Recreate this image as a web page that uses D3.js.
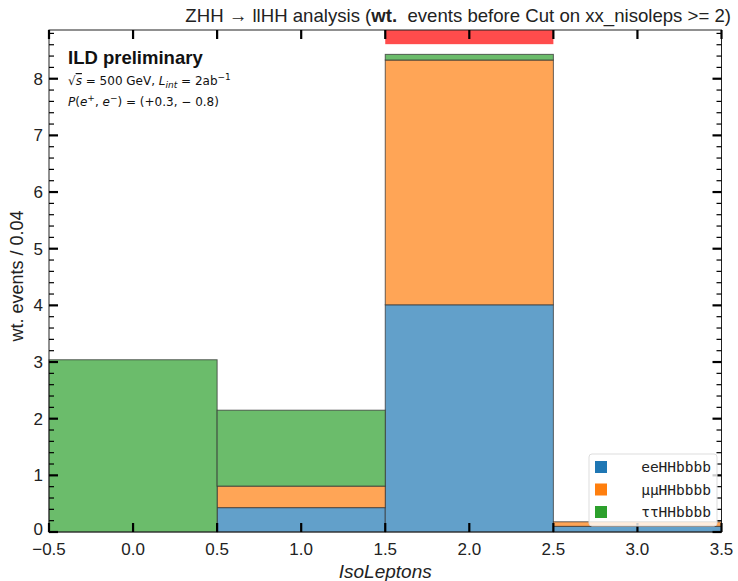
<!DOCTYPE html>
<html>
<head>
<meta charset="utf-8">
<script src="https://cdn.jsdelivr.net/npm/d3@7"></script>
<style>
  html, body { margin: 0; padding: 0; background: #fff; }
  svg { display: block; font-family: "Liberation Sans", Arial, sans-serif; }
</style>
</head>
<body>
<svg id="chart" width="738" height="581"></svg>
<script>
// Histogram bins (IsoLeptons), bin edges and stacked contributions
const binEdges = [-0.5, 0.5, 1.5, 2.5, 3.5];
const seriesNames = ["eeHHbbbb", "\u03bc\u03bcHHbbbb", "\u03c4\u03c4HHbbbb"];
const eeValues   = [0.00, 0.43, 4.01, 0.10];
const mumuValues = [0.00, 0.38, 4.32, 0.08];
const tautauValues = [3.04, 1.34, 0.10, 0.00];
// lower edge of the red band drawn up to the top of the frame
const overflowLow = [null, null, 8.61, null];

const xTicks = [-0.5, 0.0, 0.5, 1.0, 1.5, 2.0, 2.5, 3.0, 3.5];
const yTicks = [0, 1, 2, 3, 4, 5, 6, 7, 8];
const yMax = 8.86;

const fillColors = ["#62a0ca", "#ffa556", "#6bbc6b"];
const legendColors = ["#1f77b4", "#ff7f0e", "#2ca02c"];

const svg = d3.select("#chart");
const L = 49, R = 721.5, T = 30, B = 532;

const x = d3.scaleLinear().domain([-0.5, 3.5]).range([L, R]);
const y = d3.scaleLinear().domain([0, yMax]).range([B, T]);

// stacked layers
const rows = d3.range(binEdges.length - 1).map(i => ({
  lo: binEdges[i], hi: binEdges[i + 1],
  s0: eeValues[i], s1: mumuValues[i], s2: tautauValues[i]
}));
const stack = d3.stack().keys(["s0", "s1", "s2"])(rows);

const gPlot = svg.append("g");
stack.forEach((layer, k) => {
  gPlot.selectAll(null).data(layer.filter(d => d[1] - d[0] > 0)).enter()
    .append("rect")
    .attr("x", d => x(d.data.lo))
    .attr("width", d => x(d.data.hi) - x(d.data.lo))
    .attr("y", d => y(d[1]))
    .attr("height", d => y(d[0]) - y(d[1]))
    .attr("fill", fillColors[k])
    .attr("stroke", "#333")
    .attr("stroke-opacity", 0.75)
    .attr("stroke-width", 1);
});

// red band above the tallest bin
gPlot.selectAll(null).data(rows.map((r, i) => ({...r, low: overflowLow[i]})).filter(d => d.low != null))
  .enter().append("rect")
  .attr("x", d => x(d.lo))
  .attr("width", d => x(d.hi) - x(d.lo))
  .attr("y", y(yMax))
  .attr("height", d => y(d.low) - y(yMax))
  .attr("fill", "#ff4c4c");

// frame
svg.append("rect")
  .attr("x", L).attr("y", T).attr("width", R - L).attr("height", B - T)
  .attr("fill", "none").attr("stroke", "#222").attr("stroke-width", 1);

// ticks (inward on all sides)
const gt = svg.append("g").attr("stroke", "#000");
xTicks.forEach(v => {
  gt.append("line").attr("x1", x(v)).attr("x2", x(v)).attr("y1", B).attr("y2", B - 9).attr("stroke-width", 2.2);
  gt.append("line").attr("x1", x(v)).attr("x2", x(v)).attr("y1", T).attr("y2", T + 9).attr("stroke-width", 2.2);
});
yTicks.forEach(v => {
  gt.append("line").attr("x1", L).attr("x2", L + 9).attr("y1", y(v)).attr("y2", y(v)).attr("stroke-width", 2.2);
  gt.append("line").attr("x1", R).attr("x2", R - 9).attr("y1", y(v)).attr("y2", y(v)).attr("stroke-width", 2.2);
});
d3.range(1, 45).map(i => i * 0.2).filter(v => v <= yMax && Math.abs(v - Math.round(v)) > 1e-6).forEach(v => {
  gt.append("line").attr("x1", L).attr("x2", L + 5).attr("y1", y(v)).attr("y2", y(v)).attr("stroke-width", 1.2);
  gt.append("line").attr("x1", R).attr("x2", R - 5).attr("y1", y(v)).attr("y2", y(v)).attr("stroke-width", 1.2);
});

// tick labels
const fmtX = d3.format(".1f");
svg.append("g").selectAll("text").data(xTicks).enter().append("text")
  .attr("x", d => x(d)).attr("y", B + 23)
  .attr("text-anchor", "middle").attr("font-size", 17).attr("fill", "#222")
  .text(d => fmtX(d).replace("-", "\u2212"));
svg.append("g").selectAll("text").data(yTicks).enter().append("text")
  .attr("x", L - 6).attr("y", d => y(d) + (d === 0 ? 3 : 6))
  .attr("text-anchor", "end").attr("font-size", 17).attr("fill", "#222")
  .text(d => d);

// axis titles
svg.append("text").attr("x", (L + R) / 2).attr("y", 578)
  .attr("text-anchor", "middle").attr("font-size", 19).attr("font-style", "italic").attr("fill", "#222")
  .text("IsoLeptons");
svg.append("text").attr("transform", `translate(23,${(T + B) / 2 - 5}) rotate(-90)`)
  .attr("text-anchor", "middle").attr("font-size", 18).attr("fill", "#222")
  .text("wt. events / 0.04");

// title
const title = svg.append("text").attr("x", 731).attr("y", 22)
  .attr("text-anchor", "end").attr("font-size", 18.6).attr("fill", "#222")
  .attr("xml:space", "preserve");
title.append("tspan").text("ZHH \u2192 llHH analysis (");
title.append("tspan").attr("font-weight", "bold").text("wt.");
title.append("tspan").text("  events before Cut on xx_nisoleps >= 2)");

// ILD annotation
svg.append("text").attr("x", 68).attr("y", 64).attr("font-size", 18.5).attr("font-weight", "bold").attr("fill", "#111")
  .text("ILD preliminary");
const ann = { "font-family": "DejaVu Sans, sans-serif", "font-size": 12 };
const t1 = svg.append("text").attr("x", 68).attr("y", 85).attr("fill", "#111")
  .attr("font-family", ann["font-family"]).attr("font-size", ann["font-size"]);
t1.append("tspan").text("\u221a");
t1.append("tspan").attr("font-style", "italic").attr("text-decoration", "overline").text("s");
t1.append("tspan").text(" = 500 GeV, ");
t1.append("tspan").attr("font-style", "italic").text("L");
t1.append("tspan").attr("font-style", "italic").attr("font-size", 9).attr("dy", 3).text("int");
t1.append("tspan").attr("dy", -3).text(" = 2ab");
t1.append("tspan").attr("font-size", 9).attr("dy", -5).text("\u22121");
const t2 = svg.append("text").attr("x", 68).attr("y", 106).attr("fill", "#111")
  .attr("font-family", ann["font-family"]).attr("font-size", ann["font-size"]);
t2.append("tspan").attr("font-style", "italic").text("P");
t2.append("tspan").text("(");
t2.append("tspan").attr("font-style", "italic").text("e");
t2.append("tspan").attr("font-size", 9).attr("dy", -5).text("+");
t2.append("tspan").attr("dy", 5).text(", ");
t2.append("tspan").attr("font-style", "italic").text("e");
t2.append("tspan").attr("font-size", 9).attr("dy", -5).text("\u2212");
t2.append("tspan").attr("dy", 5).text(") = (+0.3, \u2212 0.8)");

// legend
const lg = svg.append("g");
lg.append("rect").attr("x", 589).attr("y", 454).attr("width", 128).attr("height", 72).attr("rx", 3)
  .attr("fill", "#fff").attr("fill-opacity", 0.8).attr("stroke", "#ddd");
seriesNames.forEach((name, i) => {
  const yy = 467 + i * 22.5;
  lg.append("rect").attr("x", 595).attr("y", yy - 6).attr("width", 12).attr("height", 12).attr("fill", legendColors[i]);
  lg.append("text").attr("x", 711).attr("y", yy + 5).attr("text-anchor", "end")
    .attr("font-family", "DejaVu Sans Mono, monospace").attr("font-size", 14.5).attr("fill", "#222")
    .text(name);
});
</script>
</body>
</html>
